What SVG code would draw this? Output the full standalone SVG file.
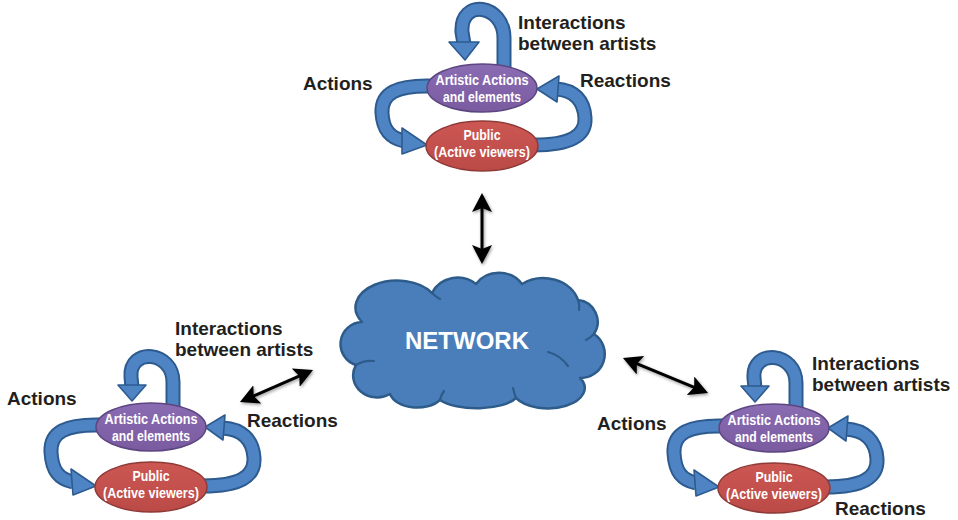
<svg xmlns="http://www.w3.org/2000/svg" width="958" height="520" viewBox="0 0 958 520">
  <defs>
    <style>
      .lbl{font-family:"Liberation Sans",Arial,sans-serif;font-weight:bold;font-size:19px;fill:#231f20}
      .in{font-family:"Liberation Sans",Arial,sans-serif;font-weight:bold;font-size:15px;fill:#fff;text-anchor:middle}
      .net{font-family:"Liberation Sans",Arial,sans-serif;font-weight:bold;font-size:24px;fill:#fff;text-anchor:middle}
      .band-o{fill:none;stroke:#2d5b8f;stroke-width:15;stroke-linecap:butt}
      .band-i{fill:none;stroke:#4f84c4;stroke-width:11;stroke-linecap:butt}
      .head{fill:#4f84c4;stroke:#2d5b8f;stroke-width:1.6;stroke-linejoin:round}
      .art{fill:url(#gPurple);stroke:#5d4680;stroke-width:1.5}
      .pub{fill:url(#gRed);stroke:#8e3a37;stroke-width:1.5}
      .cloud{fill:#4a7ebb;stroke:#2e5c8a;stroke-width:2.5;stroke-linejoin:round}
      .crease{fill:none;stroke:#2e5c8a;stroke-width:2.2;stroke-linecap:round}
      .link{fill:none;stroke:#000;stroke-width:3;marker-start:url(#tip);marker-end:url(#tip);filter:url(#soft)}
    </style>
    <linearGradient id="gPurple" x1="0" y1="0" x2="0" y2="1">
      <stop offset="0" stop-color="#8a6cb3"/>
      <stop offset="1" stop-color="#7a5ba0"/>
    </linearGradient>
    <linearGradient id="gRed" x1="0" y1="0" x2="0" y2="1">
      <stop offset="0" stop-color="#cc5753"/>
      <stop offset="1" stop-color="#bb4a47"/>
    </linearGradient>
    <filter id="soft" filterUnits="userSpaceOnUse" x="0" y="0" width="958" height="520">
      <feDropShadow dx="1" dy="1.5" stdDeviation="1.5" flood-color="#000" flood-opacity="0.4"/>
    </filter>
    <marker id="tip" markerUnits="userSpaceOnUse" markerWidth="20" markerHeight="20" viewBox="0 0 20 20" refX="10" refY="10" orient="auto-start-reverse">
      <path d="M0,0 L19,10 L0,20 L4,10 Z" fill="#000"/>
    </marker>
  </defs>

  <!-- connectors: curved band arrows of each cluster and the links to the network -->
  <g id="connectors">
    <!-- top cluster -->
    <g transform="translate(482,88)">
      <path class="band-o" d="M22 -18 L22 -50 C22 -84 -22 -90 -20 -56 L-18 -44"/>
      <path class="band-i" d="M22 -18 L22 -50 C22 -84 -22 -90 -20 -56 L-18 -44"/>
      <polygon class="head" points="-33,-46 -3,-46 -17,-28"/>
      <path class="band-o" d="M-50 -2 C-85 -3 -101 5 -100 25 C-99 42 -92 50 -78 53"/>
      <path class="band-i" d="M-50 -2 C-85 -3 -101 5 -100 25 C-99 42 -92 50 -78 53"/>
      <polygon class="head" points="-80,40 -80,66 -55,57"/>
      <path class="band-o" d="M52 57 C88 57 104 48 103 30 C102 12 92 2 74 1"/>
      <path class="band-i" d="M52 57 C88 57 104 48 103 30 C102 12 92 2 74 1"/>
      <polygon class="head" points="77,-12 75,14 55,1"/>
    </g>
    <!-- bottom-left cluster -->
    <g transform="translate(151,427)">
      <path class="band-o" d="M22 -18 L22 -45 C22 -76 -22 -80 -20 -50 L-19 -40"/>
      <path class="band-i" d="M22 -18 L22 -45 C22 -76 -22 -80 -20 -50 L-19 -40"/>
      <polygon class="head" points="-33,-42 -5,-42 -19,-26"/>
      <path class="band-o" d="M-50 -2 C-85 -3 -101 5 -100 25 C-99 44 -92 52 -78 55"/>
      <path class="band-i" d="M-50 -2 C-85 -3 -101 5 -100 25 C-99 44 -92 52 -78 55"/>
      <polygon class="head" points="-80,42 -78,68 -55,59"/>
      <path class="band-o" d="M52 59 C88 59 104 50 103 31 C102 12 90 2 72 1"/>
      <path class="band-i" d="M52 59 C88 59 104 50 103 31 C102 12 90 2 72 1"/>
      <polygon class="head" points="74,-12 72,13 54,0"/>
    </g>
    <!-- bottom-right cluster -->
    <g transform="translate(774,428)">
      <path class="band-o" d="M22 -18 L22 -45 C22 -76 -22 -80 -20 -50 L-19 -40"/>
      <path class="band-i" d="M22 -18 L22 -45 C22 -76 -22 -80 -20 -50 L-19 -40"/>
      <polygon class="head" points="-33,-42 -5,-42 -19,-26"/>
      <path class="band-o" d="M-50 -2 C-85 -3 -101 5 -100 25 C-99 44 -92 52 -78 55"/>
      <path class="band-i" d="M-50 -2 C-85 -3 -101 5 -100 25 C-99 44 -92 52 -78 55"/>
      <polygon class="head" points="-80,42 -78,68 -55,59"/>
      <path class="band-o" d="M52 59 C88 59 104 50 103 31 C102 12 90 2 72 1"/>
      <path class="band-i" d="M52 59 C88 59 104 50 103 31 C102 12 90 2 72 1"/>
      <polygon class="head" points="74,-12 72,13 54,0"/>
    </g>
    <!-- two-way links between the clusters and the network -->
    <path class="link" d="M482 202 L482 255"/>
    <path class="link" d="M248.2 398.4 L304.8 373.6"/>
    <path class="link" d="M631.3 361.4 L699.7 389.6"/>
  </g>

  <!-- network cloud -->
  <g id="network">
    <path class="cloud" d="M362 322 A40 26 0 0 1 432 293 A28 26 0 0 1 476 284 A28 26 0 0 1 522 284 A36 30 0 0 1 578 300 A22 22 0 0 1 594 334 A24 24 0 0 1 580 378 A36 20 0 0 1 516 398 A42 16 0 0 1 440 400 A28 18 0 0 1 390 394 A24 22 0 0 1 356 365 A22 22 0 0 1 362 322 Z"/>
    <path class="crease" d="M356 365 Q364 360 374 361"/>
    <path class="crease" d="M568 366 Q560 355 548 352"/>
    <path class="crease" d="M594 334 Q590 338 586 340"/>
    <path class="crease" d="M578 300 Q580 305 579 310"/>
    <path class="crease" d="M432 293 Q436 297 440 299"/>
    <path class="crease" d="M440 400 Q441 395 444 391"/>
    <path class="crease" d="M516 398 Q514 393 513 388"/>
    <text class="net" x="467" y="349">NETWORK</text>
  </g>

  <!-- top cluster nodes -->
  <g id="top-artists">
    <ellipse class="art" cx="482" cy="88" rx="55" ry="24"/>
    <text class="in" x="482" y="85" textLength="93" lengthAdjust="spacingAndGlyphs">Artistic Actions</text>
    <text class="in" x="482" y="102" textLength="78" lengthAdjust="spacingAndGlyphs">and elements</text>
  </g>
  <g id="top-public">
    <ellipse class="pub" cx="482" cy="146" rx="56" ry="25"/>
    <text class="in" x="482" y="140" textLength="37" lengthAdjust="spacingAndGlyphs">Public</text>
    <text class="in" x="482" y="157" textLength="96" lengthAdjust="spacingAndGlyphs">(Active viewers)</text>
  </g>
  <g id="top-labels">
    <text class="lbl" x="518" y="29">Interactions</text>
    <text class="lbl" x="518" y="50">between artists</text>
    <text class="lbl" x="303" y="90">Actions</text>
    <text class="lbl" x="580" y="87">Reactions</text>
  </g>

  <!-- bottom-left cluster nodes -->
  <g id="left-artists">
    <ellipse class="art" cx="151" cy="427" rx="55" ry="24"/>
    <text class="in" x="151" y="424" textLength="93" lengthAdjust="spacingAndGlyphs">Artistic Actions</text>
    <text class="in" x="151" y="441" textLength="78" lengthAdjust="spacingAndGlyphs">and elements</text>
  </g>
  <g id="left-public">
    <ellipse class="pub" cx="151" cy="487" rx="56" ry="25"/>
    <text class="in" x="151" y="481" textLength="37" lengthAdjust="spacingAndGlyphs">Public</text>
    <text class="in" x="151" y="498" textLength="96" lengthAdjust="spacingAndGlyphs">(Active viewers)</text>
  </g>
  <g id="left-labels">
    <text class="lbl" x="175" y="335">Interactions</text>
    <text class="lbl" x="175" y="356">between artists</text>
    <text class="lbl" x="7" y="405">Actions</text>
    <text class="lbl" x="247" y="427">Reactions</text>
  </g>

  <!-- bottom-right cluster nodes -->
  <g id="right-artists">
    <ellipse class="art" cx="774" cy="428" rx="55" ry="24"/>
    <text class="in" x="774" y="425" textLength="93" lengthAdjust="spacingAndGlyphs">Artistic Actions</text>
    <text class="in" x="774" y="442" textLength="78" lengthAdjust="spacingAndGlyphs">and elements</text>
  </g>
  <g id="right-public">
    <ellipse class="pub" cx="774" cy="488" rx="56" ry="25"/>
    <text class="in" x="774" y="482" textLength="37" lengthAdjust="spacingAndGlyphs">Public</text>
    <text class="in" x="774" y="499" textLength="96" lengthAdjust="spacingAndGlyphs">(Active viewers)</text>
  </g>
  <g id="right-labels">
    <text class="lbl" x="812" y="370">Interactions</text>
    <text class="lbl" x="812" y="391">between artists</text>
    <text class="lbl" x="597" y="430">Actions</text>
    <text class="lbl" x="835" y="515">Reactions</text>
  </g>
</svg>
